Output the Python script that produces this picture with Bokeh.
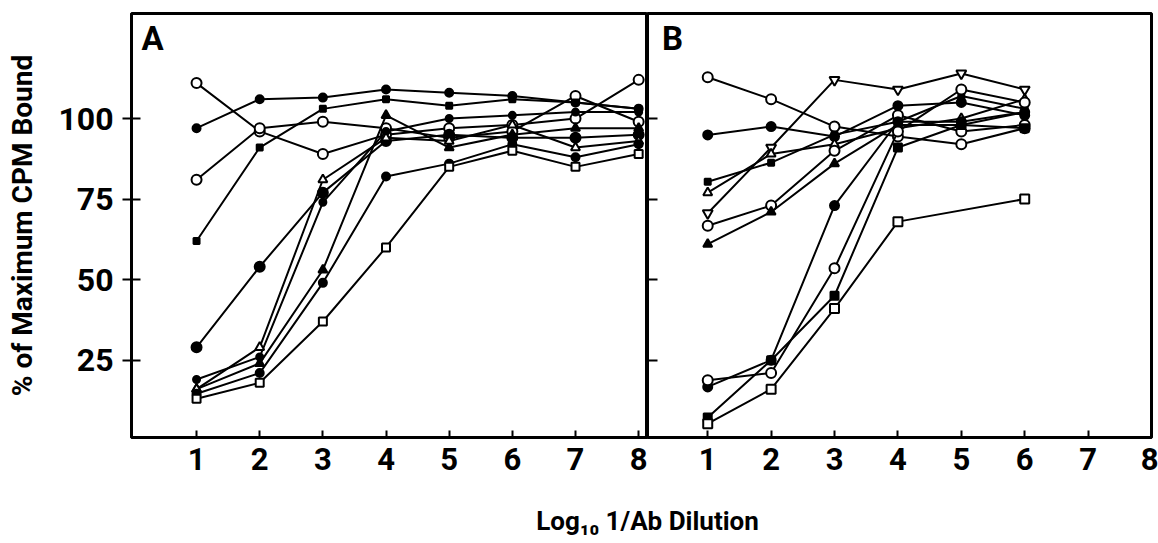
from bokeh.plotting import figure
from bokeh.layouts import row, column
from bokeh.models import FixedTicker, Range1d, Label
from bokeh.embed import file_html
from bokeh.resources import INLINE

# ---------------- data ----------------
X_TICKS = [1, 2, 3, 4, 5, 6, 7, 8]
Y_TICKS = [25, 50, 75, 100]

# Panel A (log10 1/Ab dilution 1..8)
X_A = [1, 2, 3, 4, 5, 6, 7, 8]
A_open_circle_1 = [111, 96, 89, 95, 97, 98, 100, 112]
A_filled_circle_1 = [97, 106, 106.5, 109, 108, 107, 105, 103]
A_open_circle_2 = [81, 97, 99, 97, 94, 96, 107, 99]
A_filled_square_1 = [62, 91, 103, 106, 104, 106, 105, 103]
A_filled_circle_2 = [29, 54, 77, 93, 95, 94, 94, 95]
A_filled_circle_3 = [19, 26, 74, 96, 100, 101, 102, 102]
A_filled_triangle = [16, 24, 53, 101, 91, 95, 97, 97]
A_open_triangle = [16, 29, 81, 94, 93, 98, 91, 93]
A_filled_circle_4 = [14.6, 21, 49, 82, 86, 92, 88, 92]
A_open_square = [13, 18, 37, 60, 85, 90, 85, 89]

# Panel B (log10 1/Ab dilution 1..6)
X_B = [1, 2, 3, 4, 5, 6]
X_B_GAP = [1, 2, 3, 4, 6]
B_open_inv_triangle = [70.6, 91, 112, 109, 114, 109]
B_open_circle_1 = [112.8, 106, 97.5, 94.4, 92, 97]
B_filled_circle_1 = [94.9, 97.5, 94.4, 104, 105, 101]
B_filled_square_1 = [80.4, 86.3, 95, 99, 107, 103]
B_open_triangle = [77, 89, 92, 97, 100, 106]
B_open_circle_2 = [66.7, 73, 90, 101, 96, 98]
B_filled_triangle = [61, 71, 86, 98, 98, 102]
B_filled_circle_2 = [16.7, 25, 73, 99, 99, 102]
B_open_circle_3 = [18.8, 21, 53.5, 96, 109, 105]
B_filled_square_2 = [7.2, 25, 45, 91, 98, 97]
B_open_square = [5.3, 16, 41, 68, 75]

FONT = "Roboto"

SERIES_A = [
    (X_A, A_open_circle_1, "circle", False, 10),
    (X_A, A_filled_circle_1, "circle", True, 8),
    (X_A, A_open_circle_2, "circle", False, 10),
    (X_A, A_filled_square_1, "square", True, 6),
    (X_A, A_filled_circle_2, "circle", True, 10),
    (X_A, A_filled_circle_3, "circle", True, 7),
    (X_A, A_filled_triangle, "triangle", True, 9),
    (X_A, A_open_triangle, "triangle", False, 9),
    (X_A, A_filled_circle_4, "circle", True, 8),
    (X_A, A_open_square, "square", False, 8),
]
SERIES_B = [
    (X_B, B_open_inv_triangle, "inverted_triangle", False, 10),
    (X_B, B_open_circle_1, "circle", False, 10),
    (X_B, B_filled_circle_1, "circle", True, 9),
    (X_B, B_filled_square_1, "square", True, 6),
    (X_B, B_open_triangle, "triangle", False, 9),
    (X_B, B_open_circle_2, "circle", False, 10),
    (X_B, B_filled_triangle, "triangle", True, 9),
    (X_B, B_filled_circle_2, "circle", True, 9),
    (X_B, B_open_circle_3, "circle", False, 10),
    (X_B, B_filled_square_2, "square", True, 8),
    (X_B_GAP, B_open_square, "square", False, 9),
]


def style_common(p):
    p.xgrid.visible = False
    p.ygrid.visible = False
    p.outline_line_color = "black"
    p.outline_line_width = 3
    p.background_fill_color = "white"
    p.border_fill_color = "white"
    p.xaxis.ticker = FixedTicker(ticks=X_TICKS)
    p.xaxis.minor_tick_line_color = None
    p.xaxis.major_tick_in = 7
    p.xaxis.major_tick_out = 0
    p.xaxis.major_tick_line_width = 2
    p.xaxis.major_tick_line_color = "black"
    p.xaxis.axis_line_width = 3
    p.xaxis.axis_line_color = "black"
    p.xaxis.major_label_text_font = FONT
    p.xaxis.major_label_text_font_style = "bold"
    p.xaxis.major_label_text_font_size = "31px"
    p.xaxis.major_label_text_color = "black"
    p.xaxis.major_label_standoff = 10
    p.yaxis.ticker = FixedTicker(ticks=Y_TICKS)
    p.yaxis.minor_tick_line_color = None
    p.yaxis.axis_line_width = 3
    p.yaxis.axis_line_color = "black"
    p.yaxis.major_tick_line_width = 2
    p.yaxis.major_tick_line_color = "black"


def draw(p, series):
    for xs, ys, marker, filled, size in series:
        p.line(xs, ys, line_color="black", line_width=2)
        p.scatter(xs, ys, marker=marker, size=size, line_color="black",
                  line_width=2, fill_color="black" if filled else "white")


pA = figure(width=647, height=490, x_range=Range1d(-0.03, 8.14),
            y_range=Range1d(1, 132.6), output_backend="svg",
            toolbar_location=None, min_border_left=131, min_border_right=0,
            min_border_top=13, min_border_bottom=53)
style_common(pA)
pA.yaxis.major_tick_in = 9
pA.yaxis.major_tick_out = 9
pA.yaxis.major_label_text_font = FONT
pA.yaxis.major_label_text_font_style = "bold"
pA.yaxis.major_label_text_font_size = "32px"
pA.yaxis.major_label_text_color = "black"
pA.yaxis.major_label_standoff = 9
pA.yaxis.axis_label = "% of Maximum CPM Bound"
pA.yaxis.axis_label_text_font = FONT
pA.yaxis.axis_label_text_font_style = "bold"
pA.yaxis.axis_label_text_font_size = "28px"
pA.yaxis.axis_label_text_color = "black"
pA.yaxis.axis_label_standoff = 16
draw(pA, SERIES_A)
pA.add_layout(Label(x=0.13, y=130.8, text="A", text_font=FONT,
                    text_font_style="bold", text_font_size="33px",
                    text_align="left", text_baseline="top", text_color="black"))

pB = figure(width=511, height=490, x_range=Range1d(0.05, 8.0),
            y_range=Range1d(1, 132.6), output_backend="svg",
            toolbar_location=None, min_border_left=0, min_border_right=7,
            min_border_top=13, min_border_bottom=53)
style_common(pB)
pB.yaxis.major_tick_in = 10
pB.yaxis.major_tick_out = 0
pB.yaxis.major_label_overrides = {t: "" for t in Y_TICKS}
pB.yaxis.major_label_standoff = 0
draw(pB, SERIES_B)
pB.add_layout(Label(x=0.28, y=130.8, text="B", text_font=FONT,
                    text_font_style="bold", text_font_size="33px",
                    text_align="left", text_baseline="top", text_color="black"))

pL = figure(width=1158, height=53, x_range=Range1d(0, 1158), y_range=Range1d(0, 53),
            output_backend="svg", toolbar_location=None, min_border=0)
pL.axis.visible = False
pL.xgrid.visible = False
pL.ygrid.visible = False
pL.outline_line_color = None
pL.add_layout(Label(x=647, y=23, text="Log\u2081\u2080 1/Ab Dilution", text_font=FONT,
                    text_font_style="bold", text_font_size="26px",
                    text_align="center", text_baseline="middle", text_color="black"))

layout = column(row(pA, pB), pL)
open("out.html", "w").write(file_html(layout, INLINE))
